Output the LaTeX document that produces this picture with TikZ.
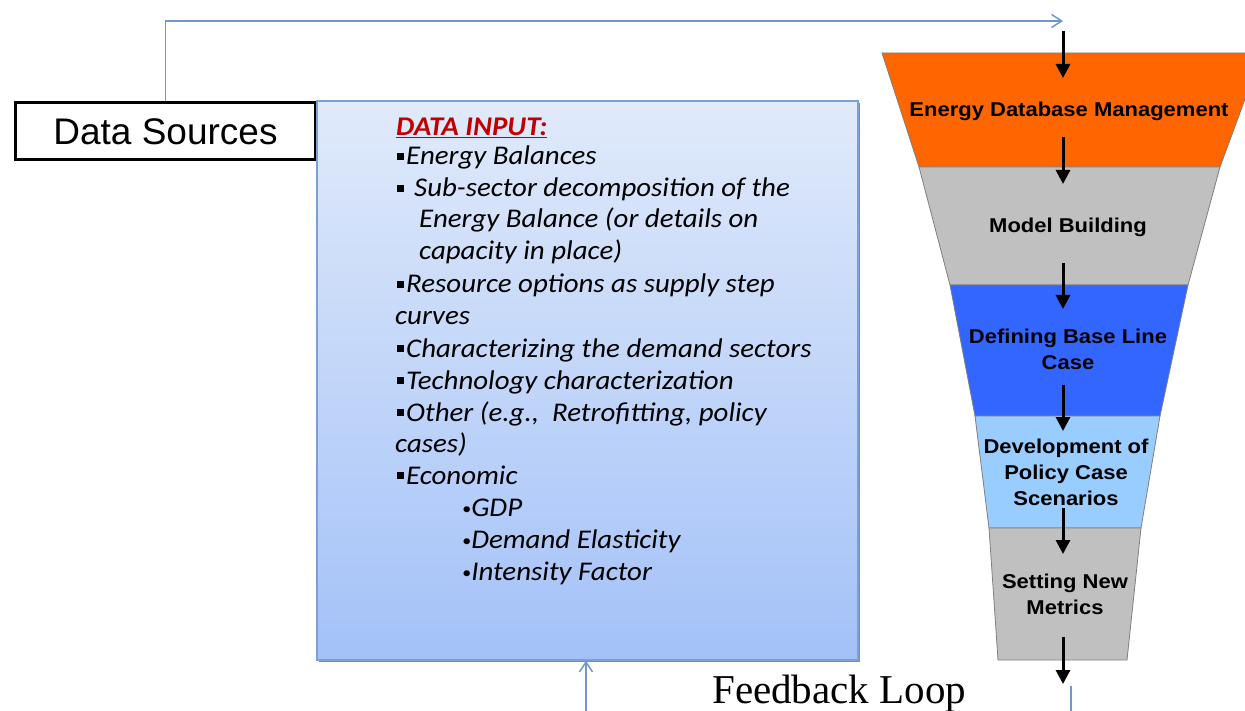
\documentclass[tikz,border=0pt]{standalone}
\usepackage{fontspec}
\usetikzlibrary{arrows.meta}
\newfontfamily\arialf{Liberation Sans}
\newfontfamily\funnelf[FakeStretch=1.1]{Liberation Sans}
\newfontfamily\calif[FakeStretch=1.07]{Carlito}
\newfontfamily\timesf{Liberation Serif}
\definecolor{linkblue}{HTML}{7097CC}
\definecolor{boxtop}{HTML}{E0EAFA}
\definecolor{boxbot}{HTML}{A3C1F8}
\definecolor{boxedge}{HTML}{7BA0D8}
\definecolor{fOrange}{HTML}{FF6600}
\definecolor{fGray}{HTML}{C0C0C0}
\definecolor{fBlue}{HTML}{3366FF}
\definecolor{fLight}{HTML}{99CCFF}
\definecolor{fEdge}{HTML}{7F7F7F}
\definecolor{titlered}{HTML}{C00000}
\newcommand{\sqbul}{\rule[5pt]{7pt}{7pt}}
\newcommand{\rdbul}{{\fontsize{17}{17}\selectfont\raisebox{2pt}{\textbullet}}}
\tikzset{
  inputline/.style={anchor=base west, inner sep=0pt, font=\calif\itshape\fontsize{27}{30}\selectfont},
  stage/.style={align=center, inner sep=0pt, font=\funnelf\bfseries\fontsize{20}{26}\selectfont},
  seg/.style={draw=fEdge, line width=0.8pt, line join=miter},
  flow/.style={line width=3pt, -{Triangle[length=14pt,width=14pt]}},
  link/.style={draw=linkblue, line width=1.5pt, -{Straight Barb[length=10pt,width=13pt]}},
  linkplain/.style={draw=linkblue, line width=1.5pt}
}
\begin{document}
\begin{tikzpicture}[x=1pt,y=-1pt]
\useasboundingbox (0,0) rectangle (1245,711);
\clip (0,0) rectangle (1245,711);

% funnel of stages
\filldraw[seg, fill=fOrange] (882,53) -- (1262,53) -- (1220,167) -- (919,167) -- cycle;
\filldraw[seg, fill=fGray]   (919,167) -- (1220,167) -- (1188,285) -- (950,285) -- cycle;
\filldraw[seg, fill=fBlue]   (950,285) -- (1188,285) -- (1160,416) -- (975,416) -- cycle;
\filldraw[seg, fill=fLight]  (975,416) -- (1160,416) -- (1141,528) -- (989,528) -- cycle;
\filldraw[seg, fill=fGray]   (989,528) -- (1141,528) -- (1127,660) -- (998,660) -- cycle;

% stage labels, placed by the baseline of their last line
\node[stage, anchor=base] (s1) at (1069,117) {Energy Database Management};
\node[stage, anchor=base] (s2) at (1068,233) {Model Building};
\node[stage, anchor=base] (s3) at (1068,369) {Defining Base Line\\Case};
\node[stage, anchor=base] (s4) at (1066,505) {Development of\\Policy Case\\Scenarios};
\node[stage, anchor=base] (s5) at (1065,614) {Setting New\\Metrics};

% flow arrows down the funnel
\coordinate (a1s) at (1063,31);  \coordinate (a1e) at (1063,78);
\coordinate (a2s) at (1063,137); \coordinate (a2e) at (1063,184);
\coordinate (a3s) at (1063,263); \coordinate (a3e) at (1063,309);
\coordinate (a4s) at (1063,385); \coordinate (a4e) at (1063,431);
\coordinate (a5s) at (1063,508); \coordinate (a5e) at (1063,554);
\coordinate (a6s) at (1063,637); \coordinate (a6e) at (1063,684);
\foreach \i in {1,...,6} \draw[flow] (a\i s) -- (a\i e);

% data sources box
\node[draw=black, line width=3pt, fill=white, minimum width=300pt, minimum height=57pt,
      inner sep=0pt, font=\arialf\fontsize{37}{40}\selectfont] (ds) at (165.5,131.5) {Data Sources};

% data input panel with its shadow
\fill[fill=black!45] (319,103) rectangle (860,662);
\node[draw=boxedge, line width=1.2pt, top color=boxtop, bottom color=boxbot,
      minimum width=541pt, minimum height=559pt, inner sep=0pt] (din) at (587.5,380.5) {};

\node[inputline, text=titlered] (t0) at (396,136) {\underline{\bfseries DATA INPUT:}};
\node[inputline] (t1)  at (397,165) {\sqbul\hspace{2pt}Energy Balances};
\node[inputline] (t2)  at (397,197) {\sqbul\hspace{10pt}Sub-sector decomposition of the};
\node[inputline] (t3)  at (419,228) {Energy Balance (or details on};
\node[inputline] (t4)  at (419,260) {capacity in place)};
\node[inputline] (t5)  at (397,293) {\sqbul\hspace{2pt}Resource options as supply step};
\node[inputline] (t6)  at (395,325) {curves};
\node[inputline] (t7)  at (397,357) {\sqbul\hspace{2pt}Characterizing the demand sectors};
\node[inputline] (t8)  at (397,389) {\sqbul\hspace{2pt}Technology characterization};
\node[inputline] (t9)  at (397,421) {\sqbul\hspace{2pt}Other (e.g.,\ \ Retrofitting, policy};
\node[inputline] (t10) at (395,452) {cases)};
\node[inputline] (t11) at (397,484) {\sqbul\hspace{2pt}Economic};
\node[inputline] (t12) at (462,516) {\rdbul GDP};
\node[inputline] (t13) at (462,548) {\rdbul Demand Elasticity};
\node[inputline] (t14) at (462,580) {\rdbul Intensity Factor};

% link from the data sources into the funnel
\coordinate (topbend) at (ds.north |- 0,21);
\coordinate (topend) at (1063,21);
\draw[link] (ds.north) -- (topbend) -- (topend);

% feedback loop
\node[anchor=base west, inner sep=0pt, font=\timesf\fontsize{41}{44}\selectfont] (fb) at (712,703) {Feedback Loop};
\coordinate (fbout) at (1071,686);
\coordinate (fbedge) at (1071,712);
\draw[linkplain] (fbout) -- (fbedge);
\coordinate (fbin) at (586,712);
\draw[link] (fbin) -- (din.south -| fbin);
\end{tikzpicture}
\end{document}
